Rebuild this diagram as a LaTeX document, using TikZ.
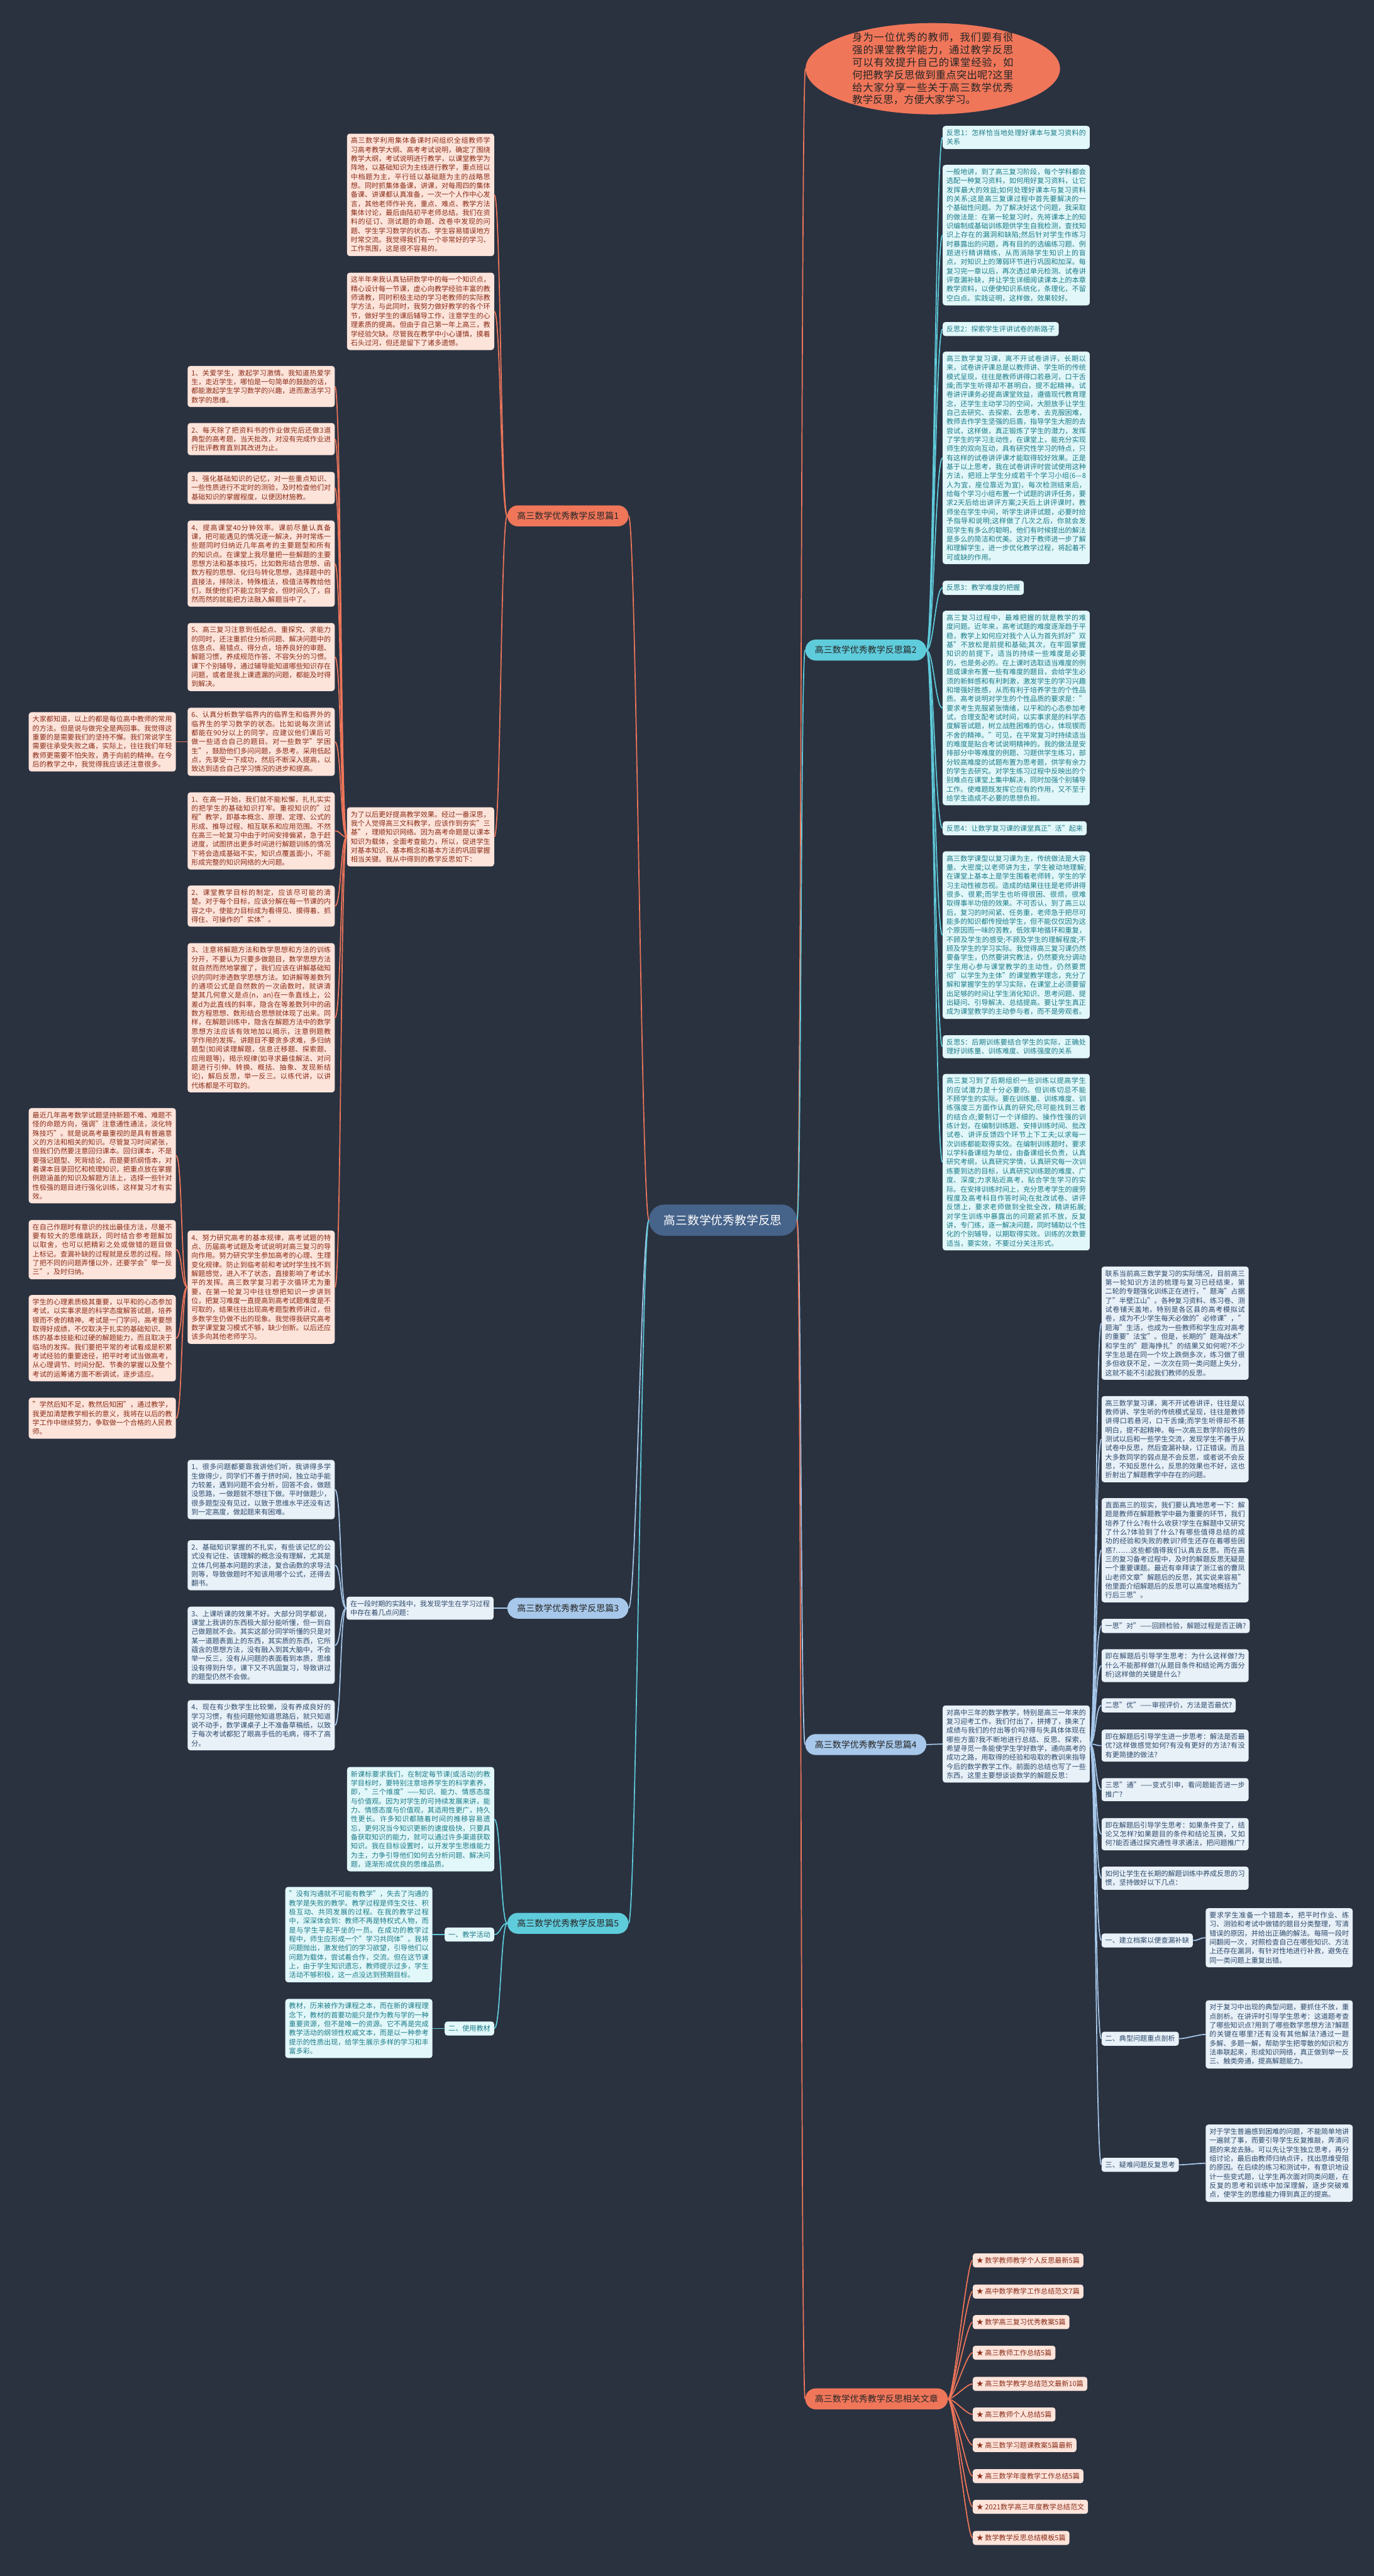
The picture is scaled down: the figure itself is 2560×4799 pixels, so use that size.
\documentclass[tikz,border=0pt]{standalone}
\usepackage{fontspec}
\setmainfont{Noto Sans CJK SC}
\XeTeXlinebreaklocale "zh"
\XeTeXlinebreakskip=0pt plus 1pt
\usetikzlibrary{shapes.geometric}

\definecolor{bgc}{HTML}{2A3240}
\definecolor{rootc}{HTML}{46638A}
\definecolor{coral}{HTML}{F0765A}
\definecolor{cyanb}{HTML}{5FCCDC}
\definecolor{blueb}{HTML}{A7C8EA}
\definecolor{peach}{HTML}{FDE4DB}
\definecolor{peachtxt}{HTML}{8A2C17}
\definecolor{aqua}{HTML}{E2F7F9}
\definecolor{aquatxt}{HTML}{1B7C89}
\definecolor{mist}{HTML}{E8F0F8}
\definecolor{misttxt}{HTML}{2D4A6A}

\tikzset{
  leaf/.style={rounded corners=2.5pt, inner sep=3.5pt, font=\fontsize{6.5pt}{8.4pt}\selectfont},
  para/.style={leaf, text width=130pt, align=justify},
  pk/.style={para, fill=peach, text=peachtxt},
  aq/.style={para, fill=aqua, text=aquatxt},
  ms/.style={para, fill=mist, text=misttxt},
  pktag/.style={leaf, fill=peach, text=peachtxt},
  aqtag/.style={leaf, fill=aqua, text=aquatxt},
  mstag/.style={leaf, fill=mist, text=misttxt},
  branch/.style={rounded corners=9.75pt, minimum height=19.5pt, inner xsep=9pt, text=black!85, font=\fontsize{8.2pt}{10pt}\selectfont},
  pkline/.style={draw=coral, line width=1pt},
  aqline/.style={draw=cyanb, line width=1pt},
  msline/.style={draw=blueb, line width=1pt}
}

\begin{document}
\begin{tikzpicture}[x=0.5pt, y=-0.5pt]
\useasboundingbox (0,0) rectangle (2560,4799);
\fill[bgc] (0,0) rectangle (2560,4799);

\node[rounded corners=14pt, fill=rootc, text=white, minimum width=137.5pt, minimum height=29pt, font=\fontsize{11pt}{13pt}\selectfont] (root) at (1347,2273) {高三数学优秀教学反思};

\node[ellipse, fill=coral, minimum width=237pt, minimum height=85pt, inner sep=0pt] (intro) at (1738,128) {};
\node[text width=150pt, align=justify, inner sep=0pt, text=black!85, font=\fontsize{9.6pt}{11.6pt}\selectfont] (introtext) at (intro.center) {身为一位优秀的教师，我们要有很强的课堂教学能力，通过教学反思可以有效提升自己的课堂经验，如何把教学反思做到重点突出呢?这里给大家分享一些关于高三数学优秀教学反思，方便大家学习。};

\node[branch, fill=coral, anchor=west] (p1) at (945,961) {高三数学优秀教学反思篇1};
\node[branch, fill=cyanb, anchor=west] (p2) at (1500,1211) {高三数学优秀教学反思篇2};
\node[branch, fill=blueb, anchor=west] (p3) at (945,2996) {高三数学优秀教学反思篇3};
\node[branch, fill=blueb, anchor=west] (p4) at (1500,3250) {高三数学优秀教学反思篇4};
\node[branch, fill=cyanb, anchor=west] (p5) at (945,3583) {高三数学优秀教学反思篇5};
\node[branch, fill=coral, anchor=west] (p6) at (1500,4469) {高三数学优秀教学反思相关文章};

\node[aq, anchor=west] (f1t) at (1756,256) {反思1：怎样恰当地处理好课本与复习资料的关系};
\node[aq, anchor=west] (f1) at (1756,438) {一般地讲，到了高三复习阶段，每个学科都会选配一种复习资料，如何用好复习资料，让它发挥最大的效益;如何处理好课本与复习资料的关系;这是高三复课过程中首先要解决的一个基础性问题。为了解决好这个问题，我采取的做法是：在第一轮复习时，先将课本上的知识编制成基础训练题供学生自我检测，查找知识上存在的漏洞和缺陷;然后针对学生作练习时暴露出的问题，再有目的的选编练习题、例题进行精讲精练，从而消除学生知识上的盲点，对知识上的薄弱环节进行巩固和加深。每复习完一章以后，再次透过单元检测、试卷讲评查漏补缺，并让学生详细阅读课本上的本章教学资料，以便使知识系统化，条理化，不留空白点。实践证明，这样做，效果较好。};
\node[aqtag, anchor=west] (f2t) at (1756,613) {反思2：探索学生评讲试卷的新路子};
\node[aq, anchor=west] (f2) at (1756,853) {高三数学复习课，离不开试卷讲评，长期以来，试卷讲评课总是以教师讲、学生听的传统模式呈现，往往是教师讲得口若悬河，口干舌燥;而学生听得却不甚明白，提不起精神。试卷讲评课务必提高课堂效益，遵循现代教育理念，还学生主动学习的空间，大胆放手让学生自己去研究、去探索、去思考、去克服困难，教师去作学生坚强的后盾，指导学生大胆的去尝试，这样做，真正锻炼了学生的潜力，发挥了学生的学习主动性，在课堂上，能充分实现师生的双向互动，具有研究性学习的特点，只有这样的试卷讲评课才能取得较好效果。正是基于以上思考，我在试卷讲评时尝试使用这种方法，把班上学生分成若干个学习小组(6—8人为宜，座位靠近为宜)，每次检测结束后，给每个学习小组布置一个试题的讲评任务，要求2天后给出讲评方案;2天后上讲评课时，教师坐在学生中间，听学生讲评试题，必要时给予指导和说明;这样做了几次之后，你就会发现学生有多么的聪明，他们有时候提出的解法是多么的简洁和优美。这对于教师进一步了解和理解学生，进一步优化教学过程，将起着不可或缺的作用。};
\node[aqtag, anchor=west] (f3t) at (1756,1095) {反思3：教学难度的把握};
\node[aq, anchor=west] (f3) at (1756,1319) {高三复习过程中，最难把握的就是教学的难度问题。近年来，高考试题的难度逐渐趋于平稳，教学上如何应对我个人认为首先抓好"双基"不放松是前提和基础;其次，在牢固掌握知识的前提下，适当的持续一些难度是必要的，也是务必的。在上课时选取适当难度的例题或课余布置一些有难度的题目，会给学生必须的新鲜感和有利刺激，激发学生的学习兴趣和增强好胜感，从而有利于培养学生的个性品质。高考说明对学生的个性品质的要求是："要求考生克服紧张情绪，以平和的心态参加考试，合理支配考试时间，以实事求是的科学态度解答试题，树立战胜困难的信心，体现锲而不舍的精神。"可见，在平常复习时持续适当的难度是贴合考试说明精神的。我的做法是安排部分中等难度的例题、习题供学生练习，部分较高难度的试题布置为思考题，供学有余力的学生去研究。对学生练习过程中反映出的个别难点在课堂上集中解决，同时加强个别辅导工作。使难题既发挥它应有的作用，又不至于给学生造成不必要的思想负担。};
\node[aqtag, anchor=west] (f4t) at (1756,1543) {反思4：让数学复习课的课堂真正"活"起来};
\node[aq, anchor=west] (f4) at (1756,1742) {高三数学课型以复习课为主，传统做法是大容量、大密度;以老师讲为主，学生被动地理解;在课堂上基本上是学生围着老师转，学生的学习主动性被忽视。造成的结果往往是老师讲得很多、很累;而学生也听得很困、很烦，很难取得事半功倍的效果。不可否认，到了高三以后，复习的时间紧、任务重，老师急于把尽可能多的知识都传授给学生，但不能仅仅因为这个原因而一味的苦教，低效率地循环和重复，不顾及学生的感受;不顾及学生的理解程度;不顾及学生的学习实际。我觉得高三复习课仍然要备学生，仍然要讲究教法，仍然要充分调动学生用心参与课堂教学的主动性，仍然要贯彻"以学生为主体"的课堂教学理念，充分了解和掌握学生的学习实际，在课堂上必须要留出足够的时间让学生消化知识、思考问题、提出疑问、引导解决、总结提高。要让学生真正成为课堂教学的主动参与者，而不是旁观者。};
\node[aq, anchor=west] (f5t) at (1756,1950) {反思5：后期训练要结合学生的实际，正确处理好训练量、训练难度、训练强度的关系};
\node[aq, anchor=west] (f5) at (1756,2165) {高三复习到了后期组织一些训练以提高学生的应试潜力是十分必要的。但训练切忌不能不顾学生的实际。要在训练量、训练难度、训练强度三方面作认真的研究;尽可能找到三者的结合点;要制订一个详细的、操作性强的训练计划，在编制训练题、安排训练时间、批改试卷、讲评反馈四个环节上下工夫;以求每一次训练都能取得实效。在编制训练题时，要求以学科备课组为单位，由备课组长负责，认真研究考纲，认真研究学情，认真研究每一次训练要到达的目标，认真研究训练题的难度、广度、深度;力求贴近高考，贴合学生学习的实际。在安排训练时间上，充分思考学生的疲劳程度及高考科目作答时间;在批改试卷、讲评反馈上，要求老师做到全批全改，精讲拓展;对学生训练中暴露出的问题紧抓不放，反复讲，专门练，逐一解决问题，同时辅助以个性化的个别辅导，以期取得实效。训练的次数要适当，要实效，不要过分关注形式。};

\node[pk, anchor=east] (a1) at (921,363) {高三数学利用集体备课时间组织全组教师学习高考教学大纲、高考考试说明，确定了围绕教学大纲，考试说明进行教学，以课堂教学为阵地，以基础知识为主线进行教学，重点班以中档题为主，平行班以基础题为主的战略思想。同时抓集体备课，讲课，对每周四的集体备课、讲课都认真准备，一次一个人作中心发言，其他老师作补充，重点、难点、教学方法集体讨论，最后由陆初平老师总结。我们在资料的征订、测试题的命题、改卷中发现的问题、学生学习数学的状态、学生容易错误地方时常交流。我觉得我们有一个非常好的学习、工作氛围，这是很不容易的。};
\node[pk, anchor=east] (a2) at (921,580) {这半年来我认真钻研数学中的每一个知识点，精心设计每一节课，虚心向教学经验丰富的教师请教，同时积极主动的学习老教师的实际教学方法，与此同时，我努力做好教学的各个环节，做好学生的课后辅导工作，注意学生的心理素质的提高。但由于自己第一年上高三，教学经验欠缺。尽管我在教学中小心谨慎，摸着石头过河，但还是留下了诸多遗憾。};
\node[pk, anchor=east] (a3) at (921,1559) {为了以后更好提高教学效果。经过一番深思，我个人觉得高三文科教学，应该作到夯实"三基"，理顺知识网络。因为高考命题是以课本知识为载体，全面考查能力，所以，促进学生对基本知识、基本概念和基本方法的巩固掌握相当关键。我从中得到的教学反思如下：};

\node[pk, anchor=east] (c1) at (624,720) {1、关爱学生，激起学习激情。我知道热爱学生，走近学生，哪怕是一句简单的鼓励的话，都能激起学生学习数学的兴趣，进而激活学习数学的思维。};
\node[pk, anchor=east] (c2) at (624,818) {2、每天除了把资料书的作业做完后还做3道典型的高考题，当天批改，对没有完成作业进行批评教育直到其改进为止。};
\node[pk, anchor=east] (c3) at (624,909) {3、强化基础知识的记忆，对一些重点知识、一些性质进行不定时的测验，及时检查他们对基础知识的掌握程度，以便因材施教。};
\node[pk, anchor=east] (c4) at (624,1050) {4、提高课堂40分钟效率。课前尽量认真备课，把可能遇见的情况逐一解决，并时常练一些题同时归纳近几年高考的主要题型和所有的知识点。在课堂上我尽量把一些解题的主要思想方法和基本技巧，比如数形结合思想、函数方程的思想、化归与转化思想，选择题中的直接法，排除法，特殊植法，极值法等教给他们，既使他们不能立刻学会，但时间久了，自然而然的就能把方法融入解题当中了。};
\node[pk, anchor=east] (c5) at (624,1224) {5、高三复习注意到低起点、重探究、求能力的同时，还注重抓住分析问题、解决问题中的信息点、易错点、得分点，培养良好的审题、解题习惯，养成规范作答、不容失分的习惯。课下个别辅导，通过辅导能知道哪些知识存在问题，或者是我上课遗漏的问题，都能及时得到解决。};
\node[pk, anchor=east] (c6) at (624,1382) {6、认真分析数学临界内的临界生和临界外的临界生的学习数学的状态。比如说每次测试都能在90分以上的同学，应建议他们课后可做一些适合自己的题目。对一些数学"学困生"，鼓励他们多问问题，多思考。采用低起点，先享受一下成功，然后不断深入提高，以致达到适合自己学习情况的进步和提高。};
\node[pk, anchor=east] (c7) at (624,1548) {1、在高一开始，我们就不能松懈，扎扎实实的把学生的基础知识打牢。重视知识的"过程"教学，即基本概念、原理、定理、公式的形成、推导过程、相互联系和应用范围。不然在高三一轮复习中由于时间安排偏紧，急于赶进度，试图挤出更多时间进行解题训练的情况下将会造成基础不实，知识点覆盖面小，不能形成完整的知识网络的大问题。};
\node[pk, anchor=east] (c8) at (624,1688) {2、课堂教学目标的制定，应该尽可能的清楚。对于每个目标，应该分解在每一节课的内容之中，使能力目标成为看得见、摸得着、抓得住、可操作的"实体"。};
\node[pk, anchor=east] (c9) at (624,1896) {3、注意将解题方法和数学思想和方法的训练分开，不要认为只要多做题目，数学思想方法就自然而然地掌握了，我们应该在讲解基础知识的同时渗透数学思想方法。如讲解等差数列的通项公式是自然数的一次函数时，就讲清楚其几何意义是点(n，an)在一条直线上，公差d为此直线的斜率，隐含在等差数列中的函数方程思想、数形结合思想就体现了出来。同样，在解题训练中，隐含在解题方法中的数学思想方法应该有效地加以揭示，注意例题教学作用的发挥。讲题目不要贪多求难，多归纳题型(如阅读理解题，信息迁移题、探索题、应用题等)，揭示规律(如寻求最佳解法、对问题进行引伸、转换、概括、抽象、发现新结论)，解后反思，举一反三。以练代讲，以讲代练都是不可取的。};
\node[pk, anchor=east] (c10) at (624,2398) {4、努力研究高考的基本规律，高考试题的特点、历届高考试题及考试说明对高三复习的导向作用。努力研究学生参加高考的心理、生理变化规律。防止到临考前和考试时学生找不到解题感觉，进入不了状态，直接影响了考试水平的发挥。高三数学复习若于次循环尤为重要，在第一轮复习中往往想把知识一步讲到位，把复习难度一直提高到高考试题难度是不可取的，结果往往出现高考题型教师讲过，但多数学生仍做不出的现象。我觉得我研究高考数学课堂复习模式不够，缺少创新。以后还应该多向其他老师学习。};

\node[pk, anchor=east] (c6a) at (328,1382) {大家都知道，以上的都是每位高中教师的常用的方法。但是说与做完全是两回事。我觉得这重要的是需要我们的坚持不懈。我们常说学生需要往承受失败之痛，实际上，往往我们年轻教师更需要不怕失败，勇于向前的精神。在今后的教学之中，我觉得我应该还注意很多。};
\node[pk, anchor=east] (c10a) at (328,2153) {最近几年高考数学试题坚持新题不难、难题不怪的命题方向，强调"注意通性通法，淡化特殊技巧"。就是说高考最重视的是具有普遍意义的方法和相关的知识。尽管复习时间紧张，但我们仍然要注意回归课本。回归课本，不是要强记题型、死背结论，而是要抓纲悟本，对着课本目录回忆和梳理知识，把重点放在掌握例题涵盖的知识及解题方法上，选择一些针对性极强的题目进行强化训练，这样复习才有实效。};
\node[pk, anchor=east] (c10b) at (328,2328) {在自己作题时有意识的找出最佳方法，尽量不要有较大的思维跳跃，同时结合参考题解加以取舍，也可以把精彩之处或做错的题目做上标记。查漏补缺的过程就是反思的过程。除了把不同的问题弄懂以外，还要学会"举一反三"，及时归纳。};
\node[pk, anchor=east] (c10c) at (328,2493) {学生的心理素质极其重要，以平和的心态参加考试，以实事求是的科学态度解答试题，培养锲而不舍的精神。考试是一门学问，高考要想取得好成绩，不仅取决于扎实的基础知识、熟练的基本技能和过硬的解题能力，而且取决于临场的发挥。我们要把平常的考试看成是积累考试经验的重要途径，把平时考试当做高考，从心理调节、时间分配、节奏的掌握以及整个考试的运筹诸方面不断调试，逐步适应。};
\node[pk, anchor=east] (c10d) at (328,2642) {"学然后知不足，教然后知困"，通过教学，我更加清楚教学相长的意义，我将在以后的教学工作中继续努力，争取做一个合格的人民教师。};

\node[ms, anchor=east] (d0) at (920,2996) {在一段时期的实践中，我发现学生在学习过程中存在着几点问题：};
\node[ms, anchor=east] (d1) at (624,2775) {1、很多问题都要靠我讲他们听，我讲得多学生做得少，同学们不善于挤时间，独立动手能力较差，遇到问题不会分析，回答不会，做题没思路，一做题就不想往下做。平时做题少，很多题型没有见过，以致于思维水平还没有达到一定高度，做起题来有困难。};
\node[ms, anchor=east] (d2) at (624,2916) {2、基础知识掌握的不扎实，有些该记忆的公式没有记住、该理解的概念没有理解，尤其是立体几何基本问题的求法，复合函数的求导法则等，导致做题时不知该用哪个公式，还得去翻书。};
\node[ms, anchor=east] (d3) at (624,3065) {3、上课听课的效果不好。大部分同学都说，课堂上我讲的东西极大部分能听懂，但一到自己做题就不会。其实这部分同学听懂的只是对某一道题表面上的东西，其实质的东西，它所蕴含的思想方法，没有融入到其大脑中，不会举一反三，没有从问题的表面看到本质，思维没有得到升华，课下又不巩固复习，导致讲过的题型仍然不会做。};
\node[ms, anchor=east] (d4) at (624,3214) {4、现在有少数学生比较懒，没有养成良好的学习习惯，有些问题他知道思路后，就只知道说不动手，数学课桌子上不准备草稿纸，以致于每次考试都犯了眼高手低的毛病，得不了高分。};

\node[aq, anchor=east] (e0) at (921,3389) {新课标要求我们，在制定每节课(或活动)的教学目标时，要特别注意培养学生的科学素养，即，"三个维度"——知识、能力、情感态度与价值观。因为对学生的可持续发展来讲，能力、情感态度与价值观，其适用性更广，持久性更长。许多知识都随着时间的推移容易遗忘，更何况当今知识更新的速度极快，只要具备获取知识的能力，就可以通过许多渠道获取知识。我在目标设置时，以开发学生思维能力为主，力争引导他们如何去分析问题、解决问题，逐渐形成优良的思维品质。};
\node[aqtag, anchor=east] (e1) at (921,3604) {一、教学活动};
\node[aq, anchor=east] (e1a) at (806,3604) {"没有沟通就不可能有教学"，失去了沟通的教学是失败的教学。教学过程是师生交往、积极互动、共同发展的过程。在我的教学过程中，深深体会到：教师不再是特权式人物，而是与学生平起平坐的一员。在成功的教学过程中，师生应形成一个"学习共同体"。我将问题抛出，激发他们的学习欲望，引导他们以问题为载体，尝试着合作，交流。但在这节课上，由于学生知识遗忘，教师提示过多，学生活动不够积极，这一点没达到预期目标。};
\node[aqtag, anchor=east] (e2) at (921,3779) {二、使用教材};
\node[aq, anchor=east] (e2a) at (806,3779) {教材，历来被作为课程之本，而在新的课程理念下，教材的首要功能只是作为教与学的一种重要资源，但不是唯一的资源。它不再是完成教学活动的纲领性权威文本，而是以一种参考提示的性质出现，给学生展示多样的学习和丰富多彩。};

\node[ms, anchor=west] (g0) at (1756,3249) {对高中三年的数学教学，特别是高三一年来的复习迎考工作，我们付出了，拼搏了，换来了成绩与我们的付出等价吗?得与失具体体现在哪些方面?我不断地进行总结、反思、探索，希望寻觅一条能使学生学好数学，通向高考的成功之路，用取得的经验和吸取的教训来指导今后的数学教学工作。前面的总结也写了一些东西。这里主要想谈谈数学的解题反思：};
\node[ms, anchor=west] (g1) at (2052,2465) {联系当前高三数学复习的实际情况，目前高三第一轮知识方法的梳理与复习已经结束，第二轮的专题强化训练正在进行，"题海"占据了"半壁江山"。各种复习资料、练习卷、测试卷铺天盖地，特别是各区县的高考模拟试卷，成为不少学生每天必做的"必修课"，"题海"生活，也成为一些教师和学生应对高考的重要"法宝"。但是，长期的"题海战术"和学生的"题海挣扎"的结果又如何呢?不少学生总是在同一个坎上跌倒多次，练习做了很多但收获不足，一次次在同一类问题上失分，这就不能不引起我们教师的反思。};
\node[ms, anchor=west] (g2) at (2052,2681) {高三数学复习课，离不开试卷讲评，往往是以教师讲、学生听的传统模式呈现，往往是教师讲得口若悬河，口干舌燥;而学生听得却不甚明白，提不起精神。每一次高三数学阶段性的测试以后和一些学生交流，发现学生不善于从试卷中反思，然后查漏补缺，订正错误。而且大多数同学的弱点是不会反思，或者说不会反思，不知反思什么，反思的效果也不好，这也折射出了解题教学中存在的问题。};
\node[ms, anchor=west] (g3) at (2052,2888) {直面高三的现实，我们要认真地思考一下：解题是教师在解题教学中最为重要的环节，我们培养了什么?有什么收获?学生在解题中又研究了什么?体验到了什么?有哪些值得总结的成功的经验和失败的教训?师生还存在着哪些困惑?……这些都值得我们认真去反思。而在高三的复习备考过程中，及时的解题反思无疑是一个重要课题。最近有幸拜读了浙江省的曹凤山老师文章"解题后的反思，其实说来容易"他里面介绍解题后的反思可以高度地概括为"行后三思"。};
\node[mstag, anchor=west] (g4) at (2052,3029) {一思"对"——回顾检验，解题过程是否正确?};
\node[ms, anchor=west] (g5) at (2052,3103) {即在解题后引导学生思考：为什么这样做?为什么不能那样做?(从题目条件和结论两方面分析)这样做的关键是什么?};
\node[mstag, anchor=west] (g6) at (2052,3177) {二思"优"——审视评价，方法是否最优?};
\node[ms, anchor=west] (g7) at (2052,3252) {即在解题后引导学生进一步思考：解法是否最优?这样做感觉如何?有没有更好的方法?有没有更简捷的做法?};
\node[ms, anchor=west] (g8) at (2052,3334) {三思"通"——变式引申，看问题能否进一步推广?};
\node[ms, anchor=west] (g9) at (2052,3417) {即在解题后引导学生思考：如果条件变了，结论又怎样?如果题目的条件和结论互换，又如何?能否通过探究通性寻求通法，把问题推广?};
\node[ms, anchor=west] (g10) at (2052,3499) {如何让学生在长期的解题训练中养成反思的习惯，坚持做好以下几点：};
\node[mstag, anchor=west] (g11) at (2052,3615) {一、建立档案以便查漏补缺};
\node[mstag, anchor=west] (g12) at (2052,3798) {二、典型问题重点剖析};
\node[mstag, anchor=west] (g13) at (2052,4033) {三、疑难问题反复思考};
\node[ms, anchor=west] (g11a) at (2246,3610) {要求学生准备一个错题本，把平时作业、练习、测验和考试中做错的题目分类整理，写清错误的原因，并给出正确的解法。每隔一段时间翻阅一次，对照检查自己在哪些知识、方法上还存在漏洞，有针对性地进行补救，避免在同一类问题上重复出错。};
\node[ms, anchor=west] (g12a) at (2246,3790) {对于复习中出现的典型问题，要抓住不放，重点剖析。在讲评时引导学生思考：这道题考查了哪些知识点?用到了哪些数学思想方法?解题的关键在哪里?还有没有其他解法?通过一题多解、多题一解，帮助学生把零散的知识和方法串联起来，形成知识网络，真正做到举一反三、触类旁通，提高解题能力。};
\node[ms, anchor=west] (g13a) at (2246,4030) {对于学生普遍感到困难的问题，不能简单地讲一遍就了事，而要引导学生反复推敲，弄清问题的来龙去脉。可以先让学生独立思考，再分组讨论，最后由教师归纳点评，找出思维受阻的原因。在后续的练习和测试中，有意识地设计一些变式题，让学生再次面对同类问题，在反复的思考和训练中加深理解，逐步突破难点，使学生的思维能力得到真正的提高。};

\node[pktag, anchor=west] (h1) at (1812,4211) {★ 数学教师教学个人反思最新5篇};
\node[pktag, anchor=west] (h2) at (1812,4269) {★ 高中数学教学工作总结范文7篇};
\node[pktag, anchor=west] (h3) at (1812,4326) {★ 数学高三复习优秀教案5篇};
\node[pktag, anchor=west] (h4) at (1812,4383) {★ 高三教师工作总结5篇};
\node[pktag, anchor=west] (h5) at (1812,4441) {★ 高三数学教学总结范文最新10篇};
\node[pktag, anchor=west] (h6) at (1812,4498) {★ 高三教师个人总结5篇};
\node[pktag, anchor=west] (h7) at (1812,4555) {★ 高三数学习题课教案5篇最新};
\node[pktag, anchor=west] (h8) at (1812,4613) {★ 高三数学年度教学工作总结5篇};
\node[pktag, anchor=west] (h9) at (1812,4670) {★ 2021数学高三年度教学总结范文};
\node[pktag, anchor=west] (h10) at (1812,4728) {★ 数学教学反思总结模板5篇};

\draw[pkline] (root.east) .. controls +(8,0) and +(-8,0) .. (intro.west);
\draw[pkline] (root.west) .. controls +(-14,0) and +(14,0) .. (p1.east);
\draw[aqline] (root.east) .. controls +(8,0) and +(-8,0) .. (p2.west);
\draw[msline] (root.west) .. controls +(-14,0) and +(14,0) .. (p3.east);
\draw[msline] (root.east) .. controls +(8,0) and +(-8,0) .. (p4.west);
\draw[aqline] (root.west) .. controls +(-14,0) and +(14,0) .. (p5.east);
\draw[pkline] (root.east) .. controls +(8,0) and +(-8,0) .. (p6.west);

\draw[aqline] (p2.east) .. controls +(13,0) and +(-13,0) .. (f1t.west);
\draw[aqline] (p2.east) .. controls +(13,0) and +(-13,0) .. (f1.west);
\draw[aqline] (p2.east) .. controls +(13,0) and +(-13,0) .. (f2t.west);
\draw[aqline] (p2.east) .. controls +(13,0) and +(-13,0) .. (f2.west);
\draw[aqline] (p2.east) .. controls +(13,0) and +(-13,0) .. (f3t.west);
\draw[aqline] (p2.east) .. controls +(13,0) and +(-13,0) .. (f3.west);
\draw[aqline] (p2.east) .. controls +(13,0) and +(-13,0) .. (f4t.west);
\draw[aqline] (p2.east) .. controls +(13,0) and +(-13,0) .. (f4.west);
\draw[aqline] (p2.east) .. controls +(13,0) and +(-13,0) .. (f5t.west);
\draw[aqline] (p2.east) .. controls +(13,0) and +(-13,0) .. (f5.west);

\draw[pkline] (p1.west) .. controls +(-12,0) and +(12,0) .. (a1.east);
\draw[pkline] (p1.west) .. controls +(-12,0) and +(12,0) .. (a2.east);
\draw[pkline] (p1.west) .. controls +(-12,0) and +(12,0) .. (a3.east);
\draw[pkline] (a3.west) .. controls +(-12,0) and +(12,0) .. (c1.east);
\draw[pkline] (a3.west) .. controls +(-12,0) and +(12,0) .. (c2.east);
\draw[pkline] (a3.west) .. controls +(-12,0) and +(12,0) .. (c3.east);
\draw[pkline] (a3.west) .. controls +(-12,0) and +(12,0) .. (c4.east);
\draw[pkline] (a3.west) .. controls +(-12,0) and +(12,0) .. (c5.east);
\draw[pkline] (a3.west) .. controls +(-12,0) and +(12,0) .. (c6.east);
\draw[pkline] (a3.west) .. controls +(-12,0) and +(12,0) .. (c7.east);
\draw[pkline] (a3.west) .. controls +(-12,0) and +(12,0) .. (c8.east);
\draw[pkline] (a3.west) .. controls +(-12,0) and +(12,0) .. (c9.east);
\draw[pkline] (a3.west) .. controls +(-12,0) and +(12,0) .. (c10.east);
\draw[pkline] (c6.west) -- (c6a.east);
\draw[pkline] (c10.west) .. controls +(-12,0) and +(12,0) .. (c10a.east);
\draw[pkline] (c10.west) .. controls +(-12,0) and +(12,0) .. (c10b.east);
\draw[pkline] (c10.west) .. controls +(-12,0) and +(12,0) .. (c10c.east);
\draw[pkline] (c10.west) .. controls +(-12,0) and +(12,0) .. (c10d.east);

\draw[msline] (p3.west) -- (d0.east);
\draw[msline] (d0.west) .. controls +(-12,0) and +(12,0) .. (d1.east);
\draw[msline] (d0.west) .. controls +(-12,0) and +(12,0) .. (d2.east);
\draw[msline] (d0.west) .. controls +(-12,0) and +(12,0) .. (d3.east);
\draw[msline] (d0.west) .. controls +(-12,0) and +(12,0) .. (d4.east);

\draw[aqline] (p5.west) .. controls +(-12,0) and +(12,0) .. (e0.east);
\draw[aqline] (p5.west) .. controls +(-12,0) and +(12,0) .. (e1.east);
\draw[aqline] (p5.west) .. controls +(-12,0) and +(12,0) .. (e2.east);
\draw[aqline] (e1.west) -- (e1a.east);
\draw[aqline] (e2.west) -- (e2a.east);

\draw[msline] (p4.east) -- (g0.west);
\draw[msline] (g0.east) .. controls +(11,0) and +(-11,0) .. (g1.west);
\draw[msline] (g0.east) .. controls +(11,0) and +(-11,0) .. (g2.west);
\draw[msline] (g0.east) .. controls +(11,0) and +(-11,0) .. (g3.west);
\draw[msline] (g0.east) .. controls +(11,0) and +(-11,0) .. (g4.west);
\draw[msline] (g0.east) .. controls +(11,0) and +(-11,0) .. (g5.west);
\draw[msline] (g0.east) .. controls +(11,0) and +(-11,0) .. (g6.west);
\draw[msline] (g0.east) .. controls +(11,0) and +(-11,0) .. (g7.west);
\draw[msline] (g0.east) .. controls +(11,0) and +(-11,0) .. (g8.west);
\draw[msline] (g0.east) .. controls +(11,0) and +(-11,0) .. (g9.west);
\draw[msline] (g0.east) .. controls +(11,0) and +(-11,0) .. (g10.west);
\draw[msline] (g0.east) .. controls +(11,0) and +(-11,0) .. (g11.west);
\draw[msline] (g0.east) .. controls +(11,0) and +(-11,0) .. (g12.west);
\draw[msline] (g0.east) .. controls +(11,0) and +(-11,0) .. (g13.west);
\draw[msline] (g11.east) .. controls +(12,0) and +(-12,0) .. (g11a.west);
\draw[msline] (g12.east) .. controls +(12,0) and +(-12,0) .. (g12a.west);
\draw[msline] (g13.east) .. controls +(12,0) and +(-12,0) .. (g13a.west);

\draw[pkline] (p6.east) .. controls +(11,0) and +(-11,0) .. (h1.west);
\draw[pkline] (p6.east) .. controls +(11,0) and +(-11,0) .. (h2.west);
\draw[pkline] (p6.east) .. controls +(11,0) and +(-11,0) .. (h3.west);
\draw[pkline] (p6.east) .. controls +(11,0) and +(-11,0) .. (h4.west);
\draw[pkline] (p6.east) .. controls +(11,0) and +(-11,0) .. (h5.west);
\draw[pkline] (p6.east) .. controls +(11,0) and +(-11,0) .. (h6.west);
\draw[pkline] (p6.east) .. controls +(11,0) and +(-11,0) .. (h7.west);
\draw[pkline] (p6.east) .. controls +(11,0) and +(-11,0) .. (h8.west);
\draw[pkline] (p6.east) .. controls +(11,0) and +(-11,0) .. (h9.west);
\draw[pkline] (p6.east) .. controls +(11,0) and +(-11,0) .. (h10.west);
\end{tikzpicture}
\end{document}
